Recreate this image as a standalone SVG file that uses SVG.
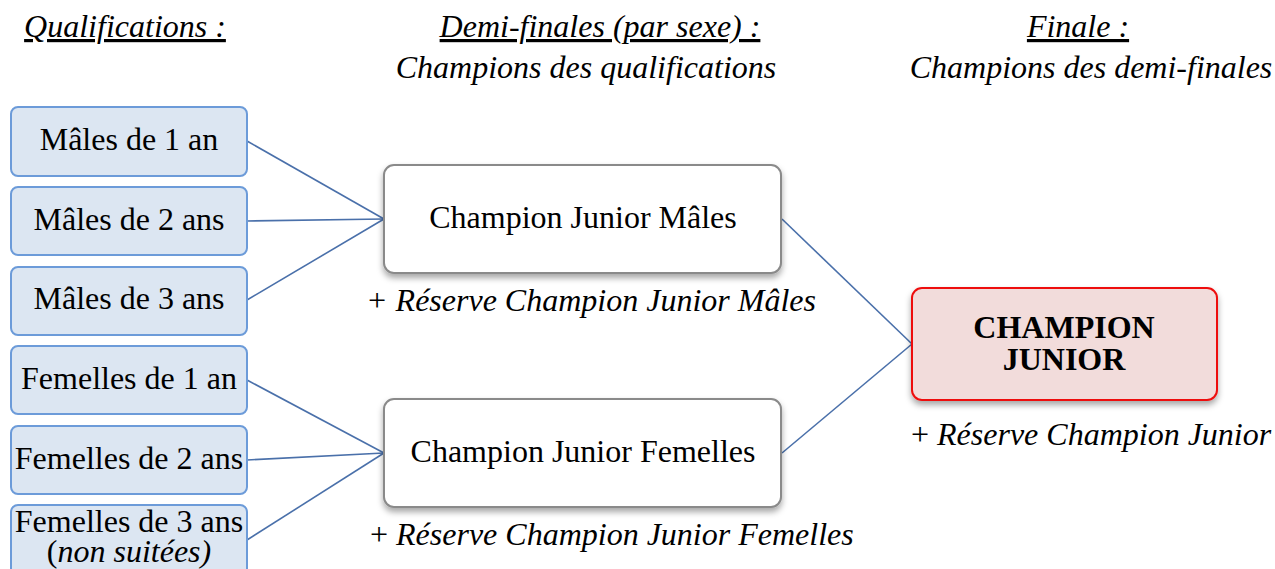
<svg xmlns="http://www.w3.org/2000/svg" width="1275" height="569" viewBox="0 0 1275 569">
<defs>
<filter id="sh" x="-10%" y="-10%" width="120%" height="130%">
<feDropShadow dx="0" dy="4" stdDeviation="3" flood-color="#000" flood-opacity="0.35"/>
</filter>
</defs>
<style>
text{font-family:"Liberation Serif","Times New Roman",serif;font-size:32px;fill:#000}
.hd{font-style:italic;text-anchor:middle}
.u{text-decoration:underline}
.q rect{fill:#dce6f2;stroke:#6c9bd9;stroke-width:2}
.q text{text-anchor:middle}
.s rect{fill:#fff;stroke:#8a8a8a;stroke-width:2}
.s text{text-anchor:middle}
.f rect{fill:#f2dcdb;stroke:#ee1111;stroke-width:2}
.f text{text-anchor:middle;font-weight:bold}
.r{font-style:italic}
#connectors line{stroke:#4a70aa;stroke-width:1.6}
</style>
<rect width="1275" height="569" fill="#fff"/>
<g id="headers">
<text class="hd u" x="125" y="37">Qualifications :</text>
<text class="hd u" x="600" y="37">Demi-finales (par sexe) :</text>
<text class="hd" x="586" y="78">Champions des qualifications</text>
<text class="hd u" x="1078" y="37">Finale :</text>
<text class="hd" x="1091" y="78">Champions des demi-finales</text>
</g>
<g id="connectors">
<line x1="247" y1="141" x2="384" y2="219"/>
<line x1="247" y1="221" x2="384" y2="219"/>
<line x1="247" y1="300" x2="384" y2="219"/>
<line x1="247" y1="380" x2="384" y2="453"/>
<line x1="247" y1="460" x2="384" y2="453"/>
<line x1="247" y1="540" x2="384" y2="453"/>
<line x1="782" y1="219" x2="912" y2="344"/>
<line x1="782" y1="453" x2="912" y2="344"/>
</g>
<g id="q1" class="q"><rect x="11" y="107" width="236" height="69" rx="7"/><text x="129" y="150">Mâles de 1 an</text></g>
<g id="q2" class="q"><rect x="11" y="187" width="236" height="68" rx="7"/><text x="129" y="230">Mâles de 2 ans</text></g>
<g id="q3" class="q"><rect x="11" y="267" width="236" height="68" rx="7"/><text x="129" y="309">Mâles de 3 ans</text></g>
<g id="q4" class="q"><rect x="11" y="346" width="236" height="68" rx="7"/><text x="129" y="389">Femelles de 1 an</text></g>
<g id="q5" class="q"><rect x="11" y="426" width="236" height="68" rx="7"/><text x="129" y="469">Femelles de 2 ans</text></g>
<g id="q6" class="q"><rect x="11" y="505" width="236" height="80" rx="7"/><text x="129" y="532">Femelles de 3 ans</text><text x="129" y="562">(<tspan font-style="italic">non suitées)</tspan></text></g>
<g id="s1" class="s"><rect x="384" y="165" width="397" height="108" rx="10" filter="url(#sh)"/><text x="583" y="228">Champion Junior Mâles</text></g>
<text class="r" x="366" y="311">+ <tspan>Réserve Champion Junior Mâles</tspan></text>
<g id="s2" class="s"><rect x="384" y="399" width="397" height="108" rx="10" filter="url(#sh)"/><text x="583" y="462">Champion Junior Femelles</text></g>
<text x="370" y="545">+ <tspan font-style="italic">Réserve Champion Junior Femelles</tspan></text>
<g id="final" class="f"><rect x="912" y="288" width="305" height="112" rx="10" filter="url(#sh)"/><text x="1064" y="338">CHAMPION</text><text x="1064" y="370">JUNIOR</text></g>
<text x="911" y="445">+ <tspan font-style="italic">Réserve Champion Junior</tspan></text>
</svg>
